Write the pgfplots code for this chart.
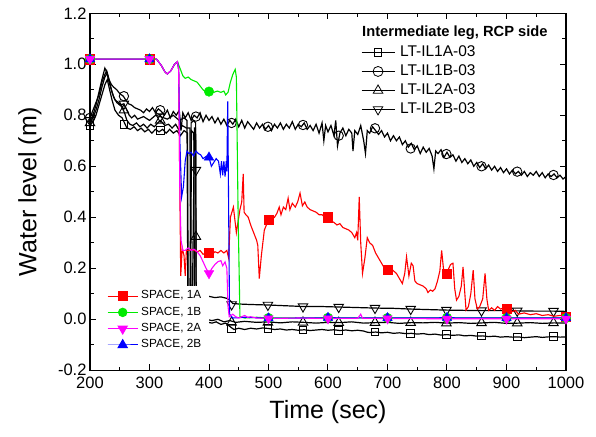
\documentclass[border=0pt]{standalone}
\usepackage{fontspec}
\setmainfont{Liberation Sans}
\usepackage{pgfplots}
\pgfplotsset{compat=1.18}
\definecolor{sgreen}{RGB}{0,235,0}
\definecolor{smag}{RGB}{255,0,255}
\begin{document}
\begin{tikzpicture}
\useasboundingbox (0,0) rectangle (596pt,436pt);
\pgfplotsset{
  common/.style={
    at={(90pt,65.7pt)}, anchor=south west,
    scale only axis, width=476pt, height=357pt,
    xmin=200, xmax=1000, ymin=-0.2, ymax=1.2,
  },
  blk/.style={black, line width=1.2pt, mark=none, forget plot},
  blkm/.style={black, only marks, forget plot, mark options={fill=white, line width=0.9pt}},
}
\begin{axis}[common,
  xtick={200,300,400,500,600,700,800,900,1000},
  ytick={-0.2,0,0.2,0.4,0.6,0.8,1.0,1.2},
  minor x tick num=1, minor y tick num=1,
  tick align=inside, major tick length=6pt, minor tick length=3.5pt,
  every tick/.style={black, line width=1pt},
  axis line style={line width=1.3pt},
  ticklabel style={font=\fontsize{16.5}{18}\selectfont},
  xticklabel style={yshift=-3pt},
  /pgf/number format/assume math mode=true,
  /pgf/number format/1000 sep={},
  yticklabel style={/pgf/number format/fixed, /pgf/number format/fixed zerofill, /pgf/number format/precision=1},
  xlabel={Time (sec)}, ylabel={Water level (m)},
  label style={font=\fontsize{25}{28}\selectfont},
  xlabel style={at={(axis description cs:0.5,-0.118)}, anchor=center},
  ylabel style={at={(axis description cs:-0.126,0.5)}, anchor=center},
  legend image code/.code={\draw[mark repeat=2,mark phase=2,#1] plot coordinates {(0pt,0pt) (16.5pt,0pt) (33pt,0pt)};},
  legend style={at={(0.569,0.914)}, anchor=north west, draw=none, fill=none, inner sep=0pt,
    row sep=2.5pt, nodes={inner sep=1pt, text height=11pt, text depth=3.5pt},
    font=\fontsize{15.5}{17}\selectfont,
    /tikz/every odd column/.style={column sep=4pt}},
  legend cell align=left,
]
% LT-IL1A-03
\addplot[blk] coordinates {(200,0.76)(205,0.775)(210,0.80)(215,0.84)(220,0.88)(225,0.92)(229,0.94)(233,0.90)(237,0.86)(242,0.82)(248,0.80)(254,0.79)(258,0.77)(262,0.75)(268,0.745)(274,0.755)(280,0.74)(286,0.75)(292,0.735)(298,0.745)(304,0.73)(310,0.745)(316,0.735)(322,0.745)(328,0.73)(334,0.745)(340,0.73)(346,0.74)(352,0.72)(358,0.74)(364,0.73)(365,0.02)(369,0.02)(370.5,0.74)(374.5,0.73)(375.5,-0.01)(395,-0.01)(405,-0.015)(412,-0.01)(420,-0.02)(428,-0.015)(436,-0.03)(442,-0.04)(450,-0.035)(460,-0.04)(470,-0.035)(480,-0.038)(490,-0.034)(500,-0.036)(510,-0.04)(520,-0.038)(530,-0.042)(540,-0.04)(550,-0.043)(560,-0.041)(570,-0.044)(580,-0.042)(590,-0.04)(600,-0.043)(610,-0.041)(620,-0.044)(630,-0.042)(640,-0.045)(650,-0.043)(660,-0.046)(665,-0.05)(670,-0.052)(680,-0.05)(690,-0.053)(700,-0.051)(710,-0.055)(720,-0.053)(730,-0.056)(740,-0.055)(750,-0.058)(760,-0.056)(770,-0.06)(780,-0.058)(790,-0.062)(800,-0.06)(810,-0.063)(820,-0.061)(830,-0.065)(840,-0.063)(850,-0.066)(860,-0.065)(870,-0.068)(880,-0.066)(890,-0.07)(900,-0.068)(910,-0.07)(920,-0.069)(930,-0.072)(940,-0.07)(950,-0.068)(960,-0.071)(970,-0.069)(980,-0.068)(990,-0.07)(1000,-0.069)};
% LT-IL2A-03
\addplot[blk] coordinates {(200,0.77)(205,0.79)(210,0.82)(215,0.86)(220,0.91)(225,0.95)(229,0.965)(233,0.93)(237,0.89)(242,0.86)(248,0.85)(254,0.83)(258,0.81)(262,0.78)(267,0.765)(272,0.76)(278,0.77)(284,0.755)(290,0.765)(296,0.75)(302,0.765)(308,0.755)(314,0.77)(318,0.78)(326,0.76)(332,0.765)(338,0.75)(344,0.765)(350,0.74)(355,0.76)(362,0.75)(368,0.75)(369.5,0.05)(372,0.05)(375.5,0.75)(377.5,0.75)(378.5,0.0)(395,0.0)(405,-0.005)(415,0.0)(425,-0.01)(435,-0.005)(445,-0.012)(460,-0.008)(480,-0.012)(500,-0.01)(520,-0.014)(540,-0.01)(560,-0.012)(580,-0.015)(600,-0.012)(620,-0.013)(640,-0.01)(660,-0.015)(680,-0.013)(700,-0.012)(720,-0.016)(740,-0.013)(760,-0.014)(780,-0.012)(800,-0.015)(820,-0.013)(840,-0.016)(860,-0.014)(880,-0.012)(900,-0.016)(920,-0.015)(940,-0.013)(960,-0.016)(980,-0.014)(1000,-0.015)};
% LT-IL2B-03
\addplot[blk] coordinates {(200,0.78)(205,0.80)(210,0.84)(215,0.89)(220,0.94)(225,0.985)(228,0.97)(232,0.93)(236,0.90)(240,0.87)(245,0.85)(250,0.84)(257,0.845)(262,0.82)(266,0.80)(270,0.79)(275,0.80)(280,0.785)(290,0.795)(300,0.78)(310,0.80)(318,0.795)(330,0.785)(340,0.80)(350,0.78)(358,0.79)(363,0.78)(364.5,0.08)(368,0.08)(370,0.77)(374,0.78)(377.5,0.77)(378.5,0.08)(390,0.085)(400,0.09)(410,0.085)(420,0.088)(430,0.082)(435,0.075)(440,0.062)(450,0.06)(470,0.058)(500,0.056)(530,0.053)(560,0.05)(590,0.05)(620,0.048)(650,0.046)(680,0.044)(710,0.043)(740,0.04)(770,0.038)(800,0.036)(830,0.035)(860,0.034)(890,0.034)(920,0.033)(950,0.032)(980,0.032)(1000,0.031)};
% LT-IL1B-03
\addplot[blk] coordinates {(200,0.79)(205,0.82)(210,0.85)(215,0.88)(220,0.93)(225,0.96)(228,0.975)(232,0.94)(236,0.92)(240,0.91)(245,0.90)(250,0.885)(256,0.875)(260,0.86)(265,0.845)(270,0.84)(275,0.83)(280,0.825)(285,0.82)(290,0.81)(295,0.825)(300,0.815)(305,0.83)(310,0.81)(315,0.825)(320,0.815)(325,0.80)(330,0.82)(335,0.79)(340,0.815)(345,0.80)(350,0.82)(353,0.74)(356,0.81)(360,0.79)(365,0.81)(370,0.78)(375,0.80)(380,0.79)(385,0.81)(390,0.775)(395,0.80)(400,0.78)(405,0.795)(410,0.77)(415,0.79)(420,0.765)(425,0.785)(430,0.76)(435,0.78)(440,0.765)(445,0.785)(450,0.755)(455,0.78)(460,0.75)(465,0.775)(470,0.76)(475,0.745)(480,0.77)(485,0.75)(490,0.765)(495,0.745)(500,0.76)(505,0.74)(510,0.765)(515,0.75)(520,0.77)(525,0.745)(530,0.765)(535,0.75)(540,0.775)(545,0.745)(550,0.765)(555,0.755)(560,0.77)(565,0.745)(570,0.76)(575,0.74)(580,0.765)(585,0.73)(590,0.77)(593,0.70)(596,0.76)(600,0.735)(605,0.76)(610,0.72)(613,0.78)(616,0.68)(620,0.73)(625,0.75)(630,0.72)(635,0.745)(640,0.73)(642,0.66)(645,0.74)(650,0.725)(655,0.76)(660,0.70)(663,0.65)(666,0.74)(670,0.73)(675,0.755)(680,0.74)(685,0.725)(690,0.74)(695,0.715)(700,0.73)(705,0.70)(710,0.72)(715,0.70)(720,0.715)(725,0.685)(730,0.70)(735,0.675)(740,0.69)(745,0.665)(750,0.68)(755,0.65)(760,0.675)(765,0.655)(770,0.67)(775,0.64)(778,0.59)(781,0.66)(785,0.65)(790,0.665)(795,0.635)(800,0.655)(805,0.635)(810,0.645)(815,0.62)(820,0.64)(825,0.615)(830,0.63)(835,0.61)(840,0.625)(845,0.60)(850,0.615)(855,0.595)(860,0.61)(865,0.59)(870,0.605)(875,0.585)(880,0.60)(885,0.58)(890,0.595)(895,0.575)(900,0.59)(905,0.57)(910,0.585)(915,0.57)(920,0.58)(925,0.565)(930,0.58)(935,0.56)(940,0.575)(945,0.565)(950,0.58)(955,0.56)(960,0.575)(965,0.555)(970,0.57)(975,0.56)(980,0.57)(985,0.555)(990,0.565)(995,0.55)(1000,0.56)};
% markers
\addplot[blkm, mark=square, mark size=3.8pt] coordinates {(200,0.76)(257,0.765)(318,0.74)(378,-0.01)(438,-0.037)(499,-0.036)(558,-0.041)(618,-0.044)(679,-0.05)(739,-0.055)(799,-0.06)(858,-0.065)(918,-0.069)(979,-0.068)};
\addplot[blkm, mark=o, mark size=4.7pt] coordinates {(200,0.79)(257,0.875)(318,0.82)(378,0.795)(438,0.77)(499,0.755)(558,0.762)(618,0.72)(679,0.749)(739,0.67)(799,0.648)(858,0.60)(918,0.579)(979,0.566)};
\addplot[blkm, mark=triangle, mark size=5.5pt] coordinates {(200,0.77)(257,0.82)(318,0.78)(378,0.324)(438,-0.012)(499,-0.012)(558,-0.012)(618,-0.013)(679,-0.013)(739,-0.013)(799,-0.015)(858,-0.014)(918,-0.015)(979,-0.014)};
\addplot[blkm, mark=triangle, mark size=5.5pt, mark options={rotate=180, fill=white, line width=0.9pt}] coordinates {(200,0.78)(257,0.845)(318,0.795)(378,0.585)(438,0.058)(499,0.056)(558,0.05)(618,0.048)(679,0.044)(739,0.04)(799,0.036)(858,0.034)(918,0.033)(979,0.032)};
% legend
\addlegendimage{black, line width=1pt, mark=square, mark size=3.6pt, mark options={fill=white, line width=0.8pt}}
\addlegendentry{LT-IL1A-03}
\addlegendimage{black, line width=1pt, mark=o, mark size=5pt, mark options={fill=white, line width=0.8pt}}
\addlegendentry{LT-IL1B-03}
\addlegendimage{black, line width=1pt, mark=triangle, mark size=5.5pt, mark options={fill=white, line width=0.8pt}}
\addlegendentry{LT-IL2A-03}
\addlegendimage{black, line width=1pt, mark=triangle, mark size=5.5pt, mark options={rotate=180, fill=white, line width=0.8pt}}
\addlegendentry{LT-IL2B-03}
\node[anchor=west, inner sep=0pt, font=\bfseries\fontsize{14.7}{16}\selectfont] at (rel axis cs:0.5714,0.945) {Intermediate leg, RCP side};
\end{axis}

\begin{axis}[common, hide axis,
  legend image code/.code={\draw[mark repeat=2,mark phase=2,#1] plot coordinates {(0pt,0pt) (15pt,0pt) (30pt,0pt)};},
  legend style={at={(0.021,0.236)}, anchor=north west, draw=none, fill=white, inner xsep=7pt, inner ysep=3pt,
    row sep=2.6pt, nodes={inner sep=1pt, text height=8.7pt, text depth=3pt},
    font=\fontsize{11.8}{13}\selectfont,
    /tikz/every odd column/.style={column sep=2pt}},
  legend cell align=left,
]
% SPACE 1A
\addplot[red, line width=1.1pt, forget plot] coordinates {(200,1.02)(300,1.02)(312,1.02)(320,0.995)(326,0.97)(330,0.962)(336,0.975)(342,1.0)(347,1.01)(349,0.98)(351,0.50)(352.5,0.17)(355,0.28)(358,0.25)(360,0.17)(362,0.27)(366,0.27)(370,0.275)(375,0.27)(380,0.265)(385,0.27)(390,0.255)(395,0.26)(400,0.26)(405,0.255)(410,0.265)(415,0.26)(420,0.27)(425,0.26)(430,0.27)(433,0.24)(436,0.40)(441,0.44)(446,0.34)(452,0.43)(455,0.46)(457.5,0.57)(459,0.42)(462,0.41)(466,0.40)(470,0.37)(475,0.34)(480,0.31)(482,0.29)(484.5,0.16)(488,0.25)(493,0.35)(500,0.39)(505,0.39)(510,0.40)(514,0.415)(518,0.44)(521,0.41)(525,0.44)(529,0.43)(533,0.475)(536,0.43)(540,0.455)(545,0.44)(549,0.46)(553,0.495)(557,0.445)(561,0.46)(565,0.44)(570,0.43)(575,0.425)(580,0.42)(585,0.41)(590,0.41)(595,0.40)(600,0.40)(605,0.385)(610,0.38)(615,0.37)(620,0.375)(625,0.36)(630,0.355)(635,0.35)(640,0.34)(645,0.32)(648,0.34)(650,0.31)(652.5,0.48)(655,0.30)(658,0.18)(662,0.24)(666,0.32)(670,0.30)(675,0.29)(680,0.26)(685,0.24)(690,0.22)(695,0.20)(700,0.195)(705,0.20)(710,0.19)(715,0.18)(720,0.16)(725,0.14)(729,0.18)(732,0.245)(736,0.17)(740,0.22)(743,0.21)(746,0.15)(750,0.14)(755,0.135)(760,0.13)(765,0.12)(768,0.105)(772,0.115)(776,0.11)(780,0.12)(784,0.15)(788,0.19)(791,0.27)(794,0.20)(797,0.17)(800,0.18)(803,0.20)(806,0.215)(810,0.22)(813,0.12)(816,0.075)(820,0.09)(824,0.13)(827,0.205)(830,0.10)(832,0.036)(836,0.05)(840,0.10)(844,0.193)(847,0.08)(851,0.04)(855,0.05)(860,0.08)(864,0.18)(867,0.08)(870,0.035)(875,0.045)(880,0.035)(885,0.05)(890,0.04)(895,0.045)(900,0.043)(905,0.035)(910,0.03)(915,0.035)(920,0.02)(930,0.025)(940,0.018)(950,0.022)(960,0.015)(970,0.018)(980,0.012)(990,0.015)(1000,0.01)};
\addplot[red, only marks, mark=square*, mark size=4.6pt, forget plot] coordinates {(200,1.02)(300,1.02)(400,0.26)(500,0.39)(600,0.40)(700,0.193)(800,0.18)(900,0.043)(1000,0.01)};
% SPACE 1B
\addplot[sgreen, line width=1.1pt, forget plot] coordinates {(200,1.02)(300,1.02)(312,1.02)(320,0.995)(326,0.97)(330,0.962)(336,0.975)(342,1.0)(347,1.01)(352,0.98)(356,0.955)(360,0.945)(365,0.95)(370,0.94)(375,0.935)(380,0.93)(385,0.915)(390,0.90)(396,0.89)(402,0.895)(408,0.89)(414,0.895)(420,0.89)(425,0.895)(428,0.88)(432,0.89)(436,0.93)(440,0.96)(444,0.98)(446,0.95)(449,0.40)(452,0.01)(460,0.005)(480,0.008)(500,0.005)(600,0.006)(700,0.005)(800,0.006)(900,0.005)(1000,0.005)};
\addplot[sgreen, only marks, mark=*, mark size=4.8pt, forget plot] coordinates {(200,1.02)(300,1.02)(400,0.893)(500,0.005)(600,0.006)(700,0.005)(800,0.006)(900,0.005)(1000,0.005)};
% SPACE 2B
\addplot[blue, line width=1.1pt, forget plot] coordinates {(200,1.02)(300,1.02)(312,1.02)(320,0.995)(326,0.97)(330,0.962)(336,0.975)(342,1.0)(347,1.01)(349,0.98)(351,0.70)(354,0.48)(357,0.52)(360,0.62)(363,0.66)(366,0.65)(370,0.655)(374,0.64)(378,0.66)(382,0.65)(386,0.645)(390,0.63)(396,0.64)(400,0.635)(404,0.60)(408,0.615)(412,0.63)(416,0.62)(419,0.57)(421,0.62)(423,0.565)(425,0.62)(427,0.56)(429,0.62)(430,0.58)(431.5,0.855)(434.5,0.02)(440,0.005)(460,0.008)(500,0.004)(600,0.006)(700,0.005)(800,0.006)(900,0.005)(1000,0.005)};
\addplot[blue, only marks, mark=triangle*, mark size=5.5pt, forget plot] coordinates {(200,1.02)(300,1.02)(400,0.635)(500,0.004)(600,0.006)(700,0.005)(800,0.006)(900,0.005)(1000,0.005)};
% SPACE 2A
\addplot[smag, line width=1.1pt, forget plot] coordinates {(200,1.02)(300,1.02)(312,1.02)(320,0.995)(326,0.97)(330,0.962)(336,0.975)(342,1.0)(347,1.01)(349,0.98)(351,0.50)(353,0.31)(356,0.27)(360,0.27)(365,0.28)(370,0.27)(375,0.275)(380,0.265)(385,0.25)(390,0.226)(395,0.20)(400,0.18)(405,0.20)(410,0.215)(415,0.226)(420,0.23)(423,0.21)(427,0.225)(430,0.20)(432,0.05)(434,0.01)(440,0.02)(445,0.01)(450,0.005)(460,0.015)(465,0.008)(470,0.01)(480,0.005)(500,0.003)(550,0.005)(600,0.003)(650,0.004)(655,0.02)(658,0.004)(700,0.003)(800,0.002)(900,0.002)(1000,0.002)};
\addplot[smag, only marks, mark=triangle*, mark size=5.5pt, mark options={rotate=180}, forget plot] coordinates {(200,1.02)(300,1.02)(400,0.18)(500,0.003)(600,0.003)(700,0.003)(800,0.002)(900,0.002)(1000,0.002)};
\addlegendimage{red, line width=1pt, mark=square*, mark size=4.4pt}
\addlegendentry{SPACE, 1A}
\addlegendimage{sgreen, line width=1pt, mark=*, mark size=4.2pt}
\addlegendentry{SPACE, 1B}
\addlegendimage{smag, line width=1pt, mark=triangle*, mark size=5.3pt, mark options={rotate=180}}
\addlegendentry{SPACE, 2A}
\addlegendimage{blue, line width=1pt, mark=triangle*, mark size=5.3pt}
\addlegendentry{SPACE, 2B}
\end{axis}
\end{tikzpicture}
\end{document}
